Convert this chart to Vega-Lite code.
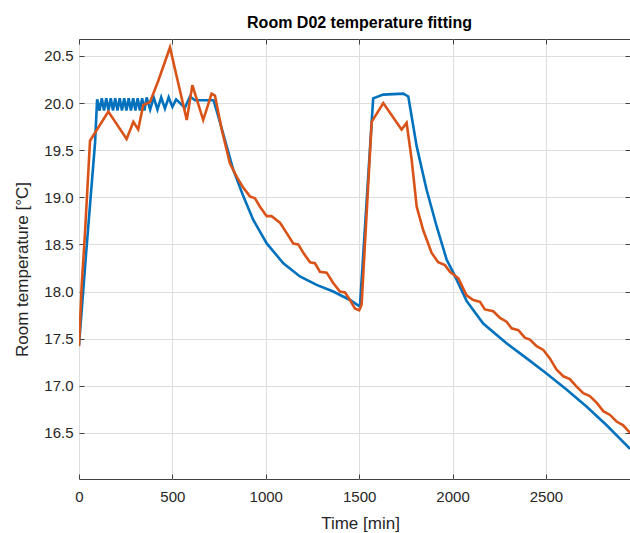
{
  "$schema": "https://vega.github.io/schema/vega-lite/v6.json",
  "autosize": {"type": "none"},
  "padding": {"left": 79, "top": 39, "right": 0, "bottom": 54},
  "width": 551,
  "height": 440,
  "background": "white",
  "config": {
    "view": {"stroke": "#404040", "strokeWidth": 1},
    "font": "Liberation Sans"
  },
  "title": {
    "text": "Room D02 temperature fitting",
    "font": "Liberation Sans",
    "fontSize": 16,
    "fontWeight": "bold",
    "color": "#000000",
    "anchor": "middle",
    "baseline": "alphabetic",
    "offset": -5,
    "dx": 5
  },
  "resolve": {"axis": {"x": "independent", "y": "independent"}},
  "datasets": {
    "model": [
      {"t": 0, "T": 17.43}, {"t": 41, "T": 18.48}, {"t": 86, "T": 19.58}, {"t": 97, "T": 20.04},
      {"t": 110, "T": 19.92}, {"t": 122, "T": 20.05}, {"t": 134, "T": 19.92}, {"t": 146, "T": 20.05},
      {"t": 158, "T": 19.92}, {"t": 170, "T": 20.05}, {"t": 182, "T": 19.92}, {"t": 194, "T": 20.05},
      {"t": 206, "T": 19.92}, {"t": 218, "T": 20.05}, {"t": 230, "T": 19.92}, {"t": 242, "T": 20.05},
      {"t": 254, "T": 19.92}, {"t": 266, "T": 20.05}, {"t": 278, "T": 19.92}, {"t": 290, "T": 20.05},
      {"t": 302, "T": 19.92}, {"t": 314, "T": 20.05}, {"t": 326, "T": 19.92}, {"t": 338, "T": 20.05},
      {"t": 350, "T": 19.92}, {"t": 362, "T": 20.06}, {"t": 381, "T": 19.93}, {"t": 400, "T": 20.06},
      {"t": 420, "T": 19.93}, {"t": 440, "T": 20.06}, {"t": 460, "T": 19.94}, {"t": 480, "T": 20.06},
      {"t": 500, "T": 19.96}, {"t": 520, "T": 20.04}, {"t": 567, "T": 19.95}, {"t": 594, "T": 20.07},
      {"t": 621, "T": 20.03}, {"t": 720, "T": 20.03}, {"t": 750, "T": 19.83}, {"t": 781, "T": 19.61},
      {"t": 826, "T": 19.29}, {"t": 880, "T": 19.01}, {"t": 933, "T": 18.76}, {"t": 1005, "T": 18.51},
      {"t": 1094, "T": 18.3}, {"t": 1183, "T": 18.16}, {"t": 1272, "T": 18.07}, {"t": 1361, "T": 18.0},
      {"t": 1451, "T": 17.91}, {"t": 1504, "T": 17.84}, {"t": 1575, "T": 20.05}, {"t": 1629, "T": 20.09},
      {"t": 1736, "T": 20.1}, {"t": 1763, "T": 20.07}, {"t": 1808, "T": 19.54}, {"t": 1861, "T": 19.08},
      {"t": 1915, "T": 18.69}, {"t": 1968, "T": 18.34}, {"t": 2004, "T": 18.2}, {"t": 2075, "T": 17.9},
      {"t": 2164, "T": 17.66}, {"t": 2289, "T": 17.45}, {"t": 2397, "T": 17.29}, {"t": 2503, "T": 17.13},
      {"t": 2610, "T": 16.96}, {"t": 2717, "T": 16.78}, {"t": 2825, "T": 16.58}, {"t": 2950, "T": 16.33}
    ],
    "measured": [
      {"t": 0, "T": 17.42}, {"t": 14, "T": 18.05}, {"t": 32, "T": 18.62}, {"t": 59, "T": 19.6},
      {"t": 157, "T": 19.91}, {"t": 255, "T": 19.62}, {"t": 291, "T": 19.8}, {"t": 317, "T": 19.72},
      {"t": 344, "T": 19.98}, {"t": 380, "T": 20.01}, {"t": 425, "T": 20.24}, {"t": 487, "T": 20.59},
      {"t": 577, "T": 19.82}, {"t": 607, "T": 20.19}, {"t": 665, "T": 19.82}, {"t": 710, "T": 20.1},
      {"t": 728, "T": 20.08}, {"t": 764, "T": 19.72}, {"t": 808, "T": 19.36}, {"t": 844, "T": 19.22},
      {"t": 880, "T": 19.1}, {"t": 915, "T": 19.01}, {"t": 942, "T": 18.99}, {"t": 969, "T": 18.9},
      {"t": 1005, "T": 18.8}, {"t": 1031, "T": 18.8}, {"t": 1076, "T": 18.73}, {"t": 1112, "T": 18.62},
      {"t": 1147, "T": 18.51}, {"t": 1174, "T": 18.5}, {"t": 1201, "T": 18.41}, {"t": 1237, "T": 18.31},
      {"t": 1263, "T": 18.3}, {"t": 1290, "T": 18.21}, {"t": 1326, "T": 18.2}, {"t": 1361, "T": 18.09},
      {"t": 1397, "T": 18.0}, {"t": 1424, "T": 17.99}, {"t": 1451, "T": 17.91}, {"t": 1477, "T": 17.82},
      {"t": 1500, "T": 17.8}, {"t": 1513, "T": 17.86}, {"t": 1567, "T": 19.8}, {"t": 1629, "T": 20.0},
      {"t": 1727, "T": 19.72}, {"t": 1754, "T": 19.79}, {"t": 1781, "T": 19.4}, {"t": 1808, "T": 18.9},
      {"t": 1843, "T": 18.65}, {"t": 1888, "T": 18.41}, {"t": 1923, "T": 18.31}, {"t": 1959, "T": 18.28},
      {"t": 1986, "T": 18.21}, {"t": 2031, "T": 18.14}, {"t": 2075, "T": 17.96}, {"t": 2111, "T": 17.91},
      {"t": 2147, "T": 17.89}, {"t": 2173, "T": 17.81}, {"t": 2218, "T": 17.79}, {"t": 2254, "T": 17.72},
      {"t": 2289, "T": 17.68}, {"t": 2316, "T": 17.61}, {"t": 2352, "T": 17.59}, {"t": 2387, "T": 17.51},
      {"t": 2414, "T": 17.49}, {"t": 2450, "T": 17.42}, {"t": 2486, "T": 17.38}, {"t": 2521, "T": 17.29},
      {"t": 2557, "T": 17.17}, {"t": 2593, "T": 17.1}, {"t": 2628, "T": 17.07}, {"t": 2664, "T": 16.99},
      {"t": 2700, "T": 16.92}, {"t": 2735, "T": 16.89}, {"t": 2771, "T": 16.82}, {"t": 2807, "T": 16.73},
      {"t": 2843, "T": 16.69}, {"t": 2878, "T": 16.62}, {"t": 2914, "T": 16.58}, {"t": 2950, "T": 16.5}
    ]
  },
  "layer": [
    {
      "data": {"name": "model"},
      "mark": {"type": "line", "color": "#0072BD", "strokeWidth": 2.6, "clip": true},
      "encoding": {
        "x": {
          "field": "t", "type": "quantitative",
          "scale": {"domain": [0, 2950], "nice": false, "zero": false},
          "axis": {
            "orient": "bottom",
            "title": "Time [min]",
            "values": [0, 500, 1000, 1500, 2000, 2500],
            "format": "d",
            "grid": true, "gridColor": "#dedede", "gridWidth": 1,
            "domain": false, "ticks": true, "tickSize": -5, "tickColor": "#404040",
            "labelFont": "Liberation Sans", "labelFontSize": 15, "labelColor": "#262626",
            "labelPadding": 15, "labelFlush": false,
            "titleFont": "Liberation Sans", "titleFontSize": 17, "titleFontWeight": "normal", "titleColor": "#262626",
            "titleX": 281, "titleY": 49, "titleAlign": "center", "titleBaseline": "alphabetic"
          }
        },
        "y": {
          "field": "T", "type": "quantitative",
          "scale": {"domain": [16.01, 20.68], "nice": false, "zero": false},
          "axis": {
            "orient": "left",
            "title": "Room temperature [°C]",
            "values": [16.5, 17, 17.5, 18, 18.5, 19, 19.5, 20, 20.5],
            "grid": true, "gridColor": "#dedede", "gridWidth": 1,
            "domain": false, "ticks": true, "tickSize": -5, "tickColor": "#404040",
            "labelFont": "Liberation Sans", "labelFontSize": 15, "labelColor": "#262626",
            "labelPadding": 11, "labelFlush": false,
            "titleFont": "Liberation Sans", "titleFontSize": 17, "titleFontWeight": "normal", "titleColor": "#262626",
            "titleX": -57, "titleY": 230, "titleAngle": -90, "titleAlign": "center", "titleBaseline": "middle"
          }
        }
      }
    },
    {
      "data": {"name": "measured"},
      "mark": {"type": "line", "color": "#D95319", "strokeWidth": 2.6, "clip": true},
      "encoding": {
        "x": {
          "field": "t", "type": "quantitative",
          "axis": {
            "orient": "top", "title": null, "labels": false, "grid": false, "domain": false,
            "ticks": true, "tickSize": -5, "tickColor": "#404040",
            "values": [0, 500, 1000, 1500, 2000, 2500]
          }
        },
        "y": {
          "field": "T", "type": "quantitative",
          "axis": {
            "orient": "right", "title": null, "labels": false, "grid": false, "domain": false,
            "ticks": true, "tickSize": -5, "tickColor": "#404040",
            "values": [16.5, 17, 17.5, 18, 18.5, 19, 19.5, 20, 20.5]
          }
        }
      }
    }
  ]
}
